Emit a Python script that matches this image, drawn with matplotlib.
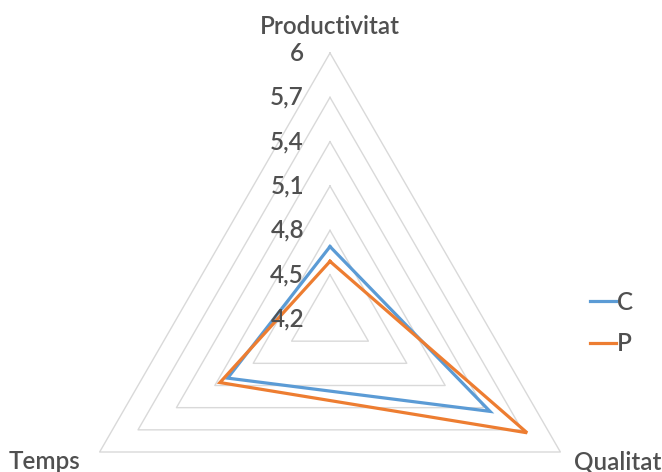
import numpy as np
import matplotlib
matplotlib.use("Agg")
import matplotlib.pyplot as plt
from matplotlib.lines import Line2D

# Chart data
categories = ["Productivitat", "Qualitat", "Temps"]
series_names = ["C", "P"]
values_c = [4.69, 5.45, 5.00]
values_p = [4.59, 5.74, 5.06]
tick_values = [4.2, 4.5, 4.8, 5.1, 5.4, 5.7, 6.0]
tick_labels = ["4,2", "4,5", "4,8", "5,1", "5,4", "5,7", "6"]

colors = ["#5B9BD5", "#ED7D31"]
grid_color = "#D9D9D9"
text_color = "#505050"
font = "Lato"
fsize = 17.5
fweight = 600

W, H = 662, 472
fig = plt.figure(figsize=(W / 100, H / 100), dpi=100)

# Polar axes placed so its centre and radius land where the radar sits
cx, cy, R = 330, 319, 266
ax = fig.add_axes([(cx - R) / W, (H - cy - R) / H, 2 * R / W, 2 * R / H],
                  projection="polar")
ax.set_theta_offset(np.pi / 2)
ax.set_theta_direction(-1)
ax.set_ylim(tick_values[0], tick_values[-1])
ax.grid(False)
ax.spines["polar"].set_visible(False)
ax.set_xticks([])
ax.set_yticks([])
ax.patch.set_alpha(0)

n = len(categories)
angles = np.linspace(0, 2 * np.pi, n, endpoint=False)
closed = np.concatenate([angles, angles[:1]])

# Triangular gridlines
for v in tick_values[1:]:
    ax.plot(closed, [v] * (n + 1), color=grid_color, lw=1.0, zorder=1,
            clip_on=False)

# Series
for name, vals, col in zip(series_names, [values_c, values_p], colors):
    ax.plot(closed, list(vals) + [vals[0]], color=col, lw=2.3, zorder=3,
            clip_on=False, solid_joinstyle="miter")

# Value labels along the top axis
for v, lab in zip(tick_values, tick_labels):
    ax.annotate(lab, xy=(0, v), xytext=(-26, 0), textcoords="offset pixels",
                ha="right", va="center", fontsize=fsize, color=text_color,
                family=font, weight=fweight, annotation_clip=False)

# Category labels
offsets = [(0, 27), (57, -10), (-55, -9)]
for ang, cat, off in zip(angles, categories, offsets):
    ax.annotate(cat, xy=(ang, tick_values[-1]), xytext=off,
                textcoords="offset pixels", ha="center", va="center",
                fontsize=fsize, color=text_color, family=font,
                weight=fweight, annotation_clip=False)

handles = [Line2D([], [], color=c, lw=2.3) for c in colors]
leg = fig.legend(handles, series_names, loc="center left",
                 bbox_to_anchor=(590 / W, 1 - 323 / H), frameon=False,
                 prop={"family": font, "size": fsize, "weight": fweight},
                 handlelength=1.05, handletextpad=0.05, labelspacing=0.75,
                 borderpad=0, borderaxespad=0)
for t in leg.get_texts():
    t.set_color(text_color)

fig.savefig("out.png", dpi=100)
